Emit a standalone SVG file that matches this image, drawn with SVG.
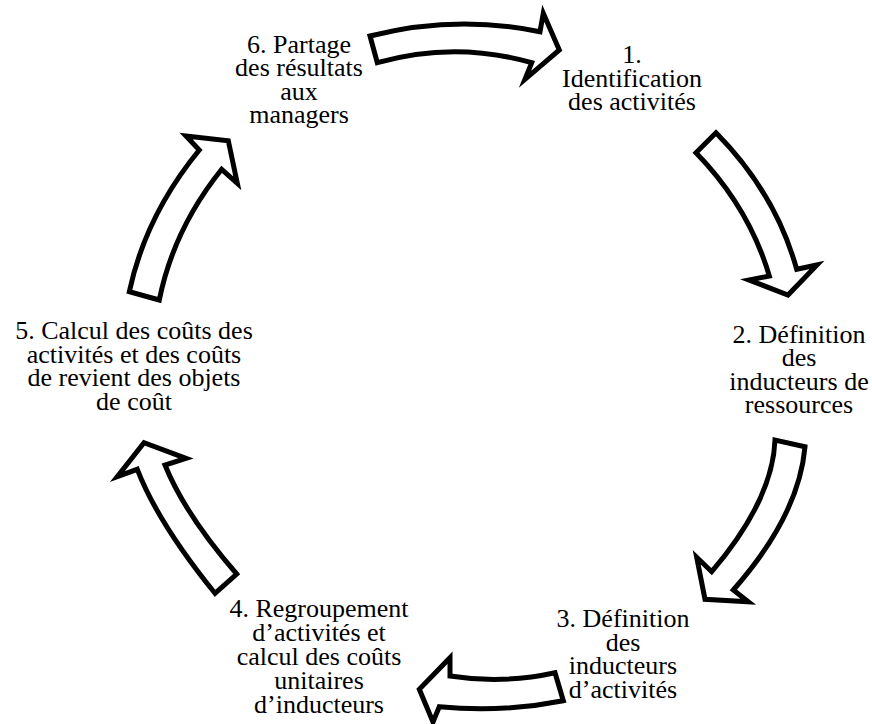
<svg xmlns="http://www.w3.org/2000/svg" width="872" height="724" viewBox="0 0 872 724">
<style>
.arr{fill:#fff;stroke:#000;stroke-width:5;stroke-linejoin:miter;stroke-miterlimit:8}
text{font-family:'Liberation Serif','DejaVu Serif',serif;font-size:26px;fill:#000;text-anchor:middle}
</style>
<rect width="872" height="724" fill="#fff"/>
<g id="connectors">
<path id="a61" class="arr" d="M370,36 Q455,14.2 540,31.7 L543.3,13.3 L559.3,50 L525,79.3 L531.7,62.7 Q454.5,40.7 377.3,62.7 Z"/>
<path id="a12" class="arr" d="M716,132.7 Q775.5,193 796.7,269.3 L817,265 L788,295 L749,280 L769.3,276 Q749.3,207.6 696,152.7 Z"/>
<path id="a23" class="arr" d="M775,440 Q772.7,500.2 711.7,571.7 L696.7,557.3 L705,599.3 L748.3,601.7 L733.3,590 Q799,515.5 805,446.7 Z"/>
<path id="a34" class="arr" d="M555,672.7 Q502.5,684.3 450,676 L450,657.7 L419.3,689.3 L433,722 L439.3,706.7 Q501.3,713 563.3,700.7 Z"/>
<path id="a45" class="arr" d="M236.7,574 Q185,514.5 165,465 L186,458.3 L144,442.7 L117.3,476.7 L137.3,469.3 Q158,523 215,593.3 Z"/>
<path id="a56" class="arr" d="M129.3,291.7 Q145.7,215.2 199.3,150 L186,136 L228.3,140.7 L237.3,183.3 L221.7,169.3 Q173.5,229.3 159.3,300 Z"/>
</g>
<g id="n1">
<text x="632" y="63"><tspan x="632">1.</tspan><tspan x="632" dy="23.5">Identification</tspan><tspan x="632" dy="23.5">des activités</tspan></text>
</g>
<g id="n2">
<text x="799" y="342.5"><tspan x="799">2. Définition</tspan><tspan x="799" dy="23.5">des</tspan><tspan x="799" dy="23.5">inducteurs de</tspan><tspan x="799" dy="23.5">ressources</tspan></text>
</g>
<g id="n3">
<text x="623" y="627"><tspan x="623">3. Définition</tspan><tspan x="623" dy="23.5">des</tspan><tspan x="623" dy="23.5">inducteurs</tspan><tspan x="623" dy="23.5">d’activités</tspan></text>
</g>
<g id="n4">
<text x="319" y="616.7"><tspan x="319">4. Regroupement</tspan><tspan x="319" dy="24">d’activités et</tspan><tspan x="319" dy="24">calcul des coûts</tspan><tspan x="319" dy="24">unitaires</tspan><tspan x="319" dy="24">d’inducteurs</tspan></text>
</g>
<g id="n5">
<text x="134" y="339"><tspan x="134">5. Calcul des coûts des</tspan><tspan x="134" dy="23.5">activités et des coûts</tspan><tspan x="134" dy="23.5">de revient des objets</tspan><tspan x="134" dy="23.5">de coût</tspan></text>
</g>
<g id="n6">
<text x="299" y="52.5"><tspan x="299">6. Partage</tspan><tspan x="299" dy="23.5">des résultats</tspan><tspan x="299" dy="23.5">aux</tspan><tspan x="299" dy="23.5">managers</tspan></text>
</g>
</svg>
